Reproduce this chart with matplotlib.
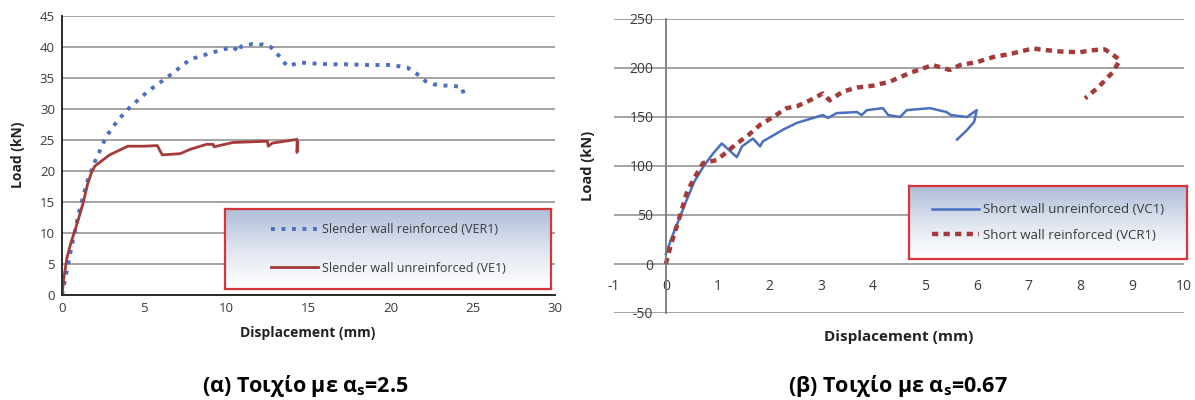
import numpy as np
import matplotlib
matplotlib.use("Agg")
import matplotlib.pyplot as plt
from matplotlib.colors import LinearSegmentedColormap

plt.rcParams['font.family'] = ['Open Sans', 'Noto Sans', 'DejaVu Sans']
plt.rcParams['mathtext.fontset'] = 'custom'
plt.rcParams['axes.unicode_minus'] = False

# ---------------- data: left chart (slender walls) ----------------
ver1_x = [0, 0.3, 0.6, 1.0, 1.3, 1.58, 2.0, 2.7, 3.4, 4.1, 5.2, 6.4, 7.8, 8.4, 9.4,
          10.4, 10.8, 10.9, 11.6, 12.2, 12.7, 13.3, 13.7, 14.1, 14.5, 15.5, 16.5,
          17.5, 18.6, 20.0, 21.0, 21.8, 22.1, 22.6, 23.2, 23.8, 24.3, 24.5, 24.6]
ver1_y = [0, 4.0, 8.0, 13.0, 16.0, 18.6, 21.5, 25.6, 28.2, 30.2, 32.8, 35.1, 38.0, 38.5, 39.3,
          40.0, 39.2, 40.1, 40.5, 40.4, 40.0, 38.3, 36.9, 37.2, 37.5, 37.3, 37.2,
          37.2, 37.1, 37.1, 36.7, 35.3, 34.5, 34.0, 33.8, 33.7, 33.6, 32.1, 32.6]

ve1_x = [0, 0.1, 0.3, 0.55, 0.8, 1.05, 1.3, 1.55, 1.8, 2.0, 2.9, 4.0, 5.0, 5.8, 6.1,
         7.2, 7.8, 8.8, 9.2, 9.25, 10.4, 12.5, 12.55, 12.8, 14.3, 14.3, 14.35]
ve1_y = [0, 2.5, 6.0, 8.5, 10.5, 12.7, 15.0, 17.8, 19.8, 20.8, 22.6, 24.0, 24.0, 24.1, 22.6,
         22.8, 23.5, 24.3, 24.3, 23.9, 24.6, 24.8, 24.0, 24.5, 25.1, 23.0, 24.6]

# ---------------- data: right chart (short walls) ----------------
vc1_x = [0, 0.1, 0.25, 0.4, 0.55, 0.72, 0.9, 1.08, 1.37, 1.47, 1.68, 1.82, 1.87, 2.26,
         2.53, 3.03, 3.13, 3.3, 3.69, 3.78, 3.88, 4.19, 4.29, 4.52, 4.65, 5.1, 5.42,
         5.5, 5.81, 6.0, 5.95, 5.8, 5.62]
vc1_y = [10, 25, 45, 65, 84, 99, 112, 123, 109, 120, 128, 120, 125, 137,
         144, 152, 149, 154, 155, 152, 157, 159, 152, 150, 157, 159, 155,
         152, 150, 157, 145, 136, 127]

vcr1_x = [0, 0.1, 0.25, 0.4, 0.53, 0.72, 0.98, 1.17, 1.37, 1.56, 1.82, 2.07, 2.33,
          2.53, 2.78, 3.03, 3.16, 3.42, 3.69, 4.0, 4.32, 4.71, 5.04, 5.15, 5.48,
          5.68, 6.0, 6.31, 6.7, 7.09, 7.22, 7.55, 7.99, 8.19, 8.47, 8.62, 8.76,
          8.63, 8.34, 8.09]
vcr1_y = [0, 20, 45, 72, 86, 103, 106, 114, 123, 130, 142, 150, 159,
          161, 167, 174, 167, 176, 180, 182, 186, 195, 201, 203, 198,
          203, 206, 211, 215, 220, 219, 217, 216, 218, 219, 214, 208,
          196, 180, 169]

left_xticks = [0, 5, 10, 15, 20, 25, 30]
left_yticks = [0, 5, 10, 15, 20, 25, 30, 35, 40, 45]
right_xticks = [-1, 0, 1, 2, 3, 4, 5, 6, 7, 8, 9, 10]
right_yticks = [-50, 0, 50, 100, 150, 200, 250]

left_labels = ["Slender wall reinforced (VER1)", "Slender wall unreinforced (VE1)"]
right_labels = ["Short wall unreinforced (VC1)", "Short wall reinforced (VCR1)"]
caption_left = "(α) Τοιχίο με α$_\\mathregular{s}$=2.5"
caption_right = "(β) Τοιχίο με α$_\\mathregular{s}$=0.67"

BLUE = '#4a6fc0'
RED = '#a53a3a'
GRID = '#9c9c9c'
TXT = '#3a3a3a'

W, H = 1195, 400
fig = plt.figure(figsize=(W / 100, H / 100), dpi=100)

def fx(px):
    return px / W

def fy(py):
    return 1 - py / H

# ---------------- left axes ----------------
axL = fig.add_axes([fx(62), fy(295), fx(555) - fx(62), fy(16) - fy(295)])
axL.set_xlim(0, 30)
axL.set_ylim(0, 45)
axL.set_xticks(left_xticks)
axL.set_yticks(left_yticks)
axL.yaxis.grid(True, color=GRID, lw=1.3)
axL.set_axisbelow(True)
for s in ['top', 'right']:
    axL.spines[s].set_visible(False)
for s in ['left', 'bottom']:
    axL.spines[s].set_color('#2a2a2a')
    axL.spines[s].set_linewidth(1.4)
axL.tick_params(length=0, labelsize=9.5, labelcolor=TXT, pad=5)
lv, = axL.plot(ver1_x, ver1_y, color=BLUE, lw=2.8, linestyle=(0, (1, 1.7)),
               dash_capstyle='butt', label=left_labels[0])
lr, = axL.plot(ve1_x, ve1_y, color=RED, lw=2.0, label=left_labels[1])

# ---------------- right axes ----------------
axR = fig.add_axes([fx(614), fy(313), fx(1184) - fx(614), fy(19) - fy(313)])
axR.set_xlim(-1, 10)
axR.set_ylim(-50, 250)
axR.set_xticks(right_xticks)
axR.set_yticks(right_yticks)
axR.yaxis.grid(True, color=GRID, lw=1.3)
axR.set_axisbelow(True)
for s in ['top', 'right', 'bottom']:
    axR.spines[s].set_visible(False)
axR.spines['left'].set_position(('data', 0))
axR.spines['left'].set_color('#7a7a7a')
axR.spines['left'].set_linewidth(1.3)
axR.spines['bottom'].set_position(('data', 0))
axR.tick_params(length=0, labelsize=10, labelcolor=TXT)
axR.tick_params(axis='x', pad=11)
axR.tick_params(axis='y', pad=9)
rb, = axR.plot(vc1_x, vc1_y, color=BLUE, lw=1.8, label=right_labels[0])
rr, = axR.plot(vcr1_x, vcr1_y, color=RED, lw=3.2, linestyle=(0, (1.4, 1.2)),
               dash_capstyle='butt', label=right_labels[1])

# ---------------- axis labels ----------------
fig.text(fx(18), fy(155), "Load (kN)", rotation=90, ha='center', va='center',
         fontsize=10, fontweight='bold', color='#222222')
fig.text(fx(308), fy(333), "Displacement (mm)", ha='center', va='center',
         fontsize=10, fontweight='bold', color='#222222')
fig.text(fx(588), fy(166), "Load (kN)", rotation=90, ha='center', va='center',
         fontsize=10.5, fontweight='bold', color='#222222')
fig.text(fx(899), fy(337), "Displacement (mm)", ha='center', va='center',
         fontsize=11, fontweight='bold', color='#222222')

# ---------------- gradient legends ----------------
cmap = LinearSegmentedColormap.from_list('lg', ['#aebcd8', '#dfe5f0', '#ffffff'])

def grad_legend(box, handles, labels, fs, hl, ls):
    x0, y0, x1, y1 = box
    lax = fig.add_axes([fx(x0), fy(y1), fx(x1) - fx(x0), fy(y0) - fy(y1)])
    lax.imshow(np.linspace(0, 1, 128).reshape(-1, 1), aspect='auto', cmap=cmap,
               extent=[0, 1, 0, 1], origin='upper')
    lax.set_xlim(0, 1)
    lax.set_ylim(0, 1)
    lax.set_xticks([])
    lax.set_yticks([])
    for s in lax.spines.values():
        s.set_color('#d9343c')
        s.set_linewidth(1.6)
    leg = lax.legend(handles, labels, loc='center', frameon=False, fontsize=fs,
                     handlelength=hl, labelspacing=ls, handletextpad=0.3,
                     borderpad=0.2)
    for t in leg.get_texts():
        t.set_color(TXT)
    return lax

grad_legend((225, 209, 551, 289), [lv, lr], left_labels, 9, 3.8, 2.05)
grad_legend((909, 186, 1187, 259), [rb, rr], right_labels, 9.5, 3.6, 0.95)

# ---------------- captions ----------------
fig.text(fx(305), fy(386), caption_left, ha='center', va='center',
         fontsize=15.5, fontweight='bold', color='black',
         family=['Open Sans', 'DejaVu Sans'])
fig.text(fx(898), fy(386), caption_right, ha='center', va='center',
         fontsize=15.5, fontweight='bold', color='black',
         family=['Open Sans', 'DejaVu Sans'])

fig.savefig('out.png', dpi=100)
